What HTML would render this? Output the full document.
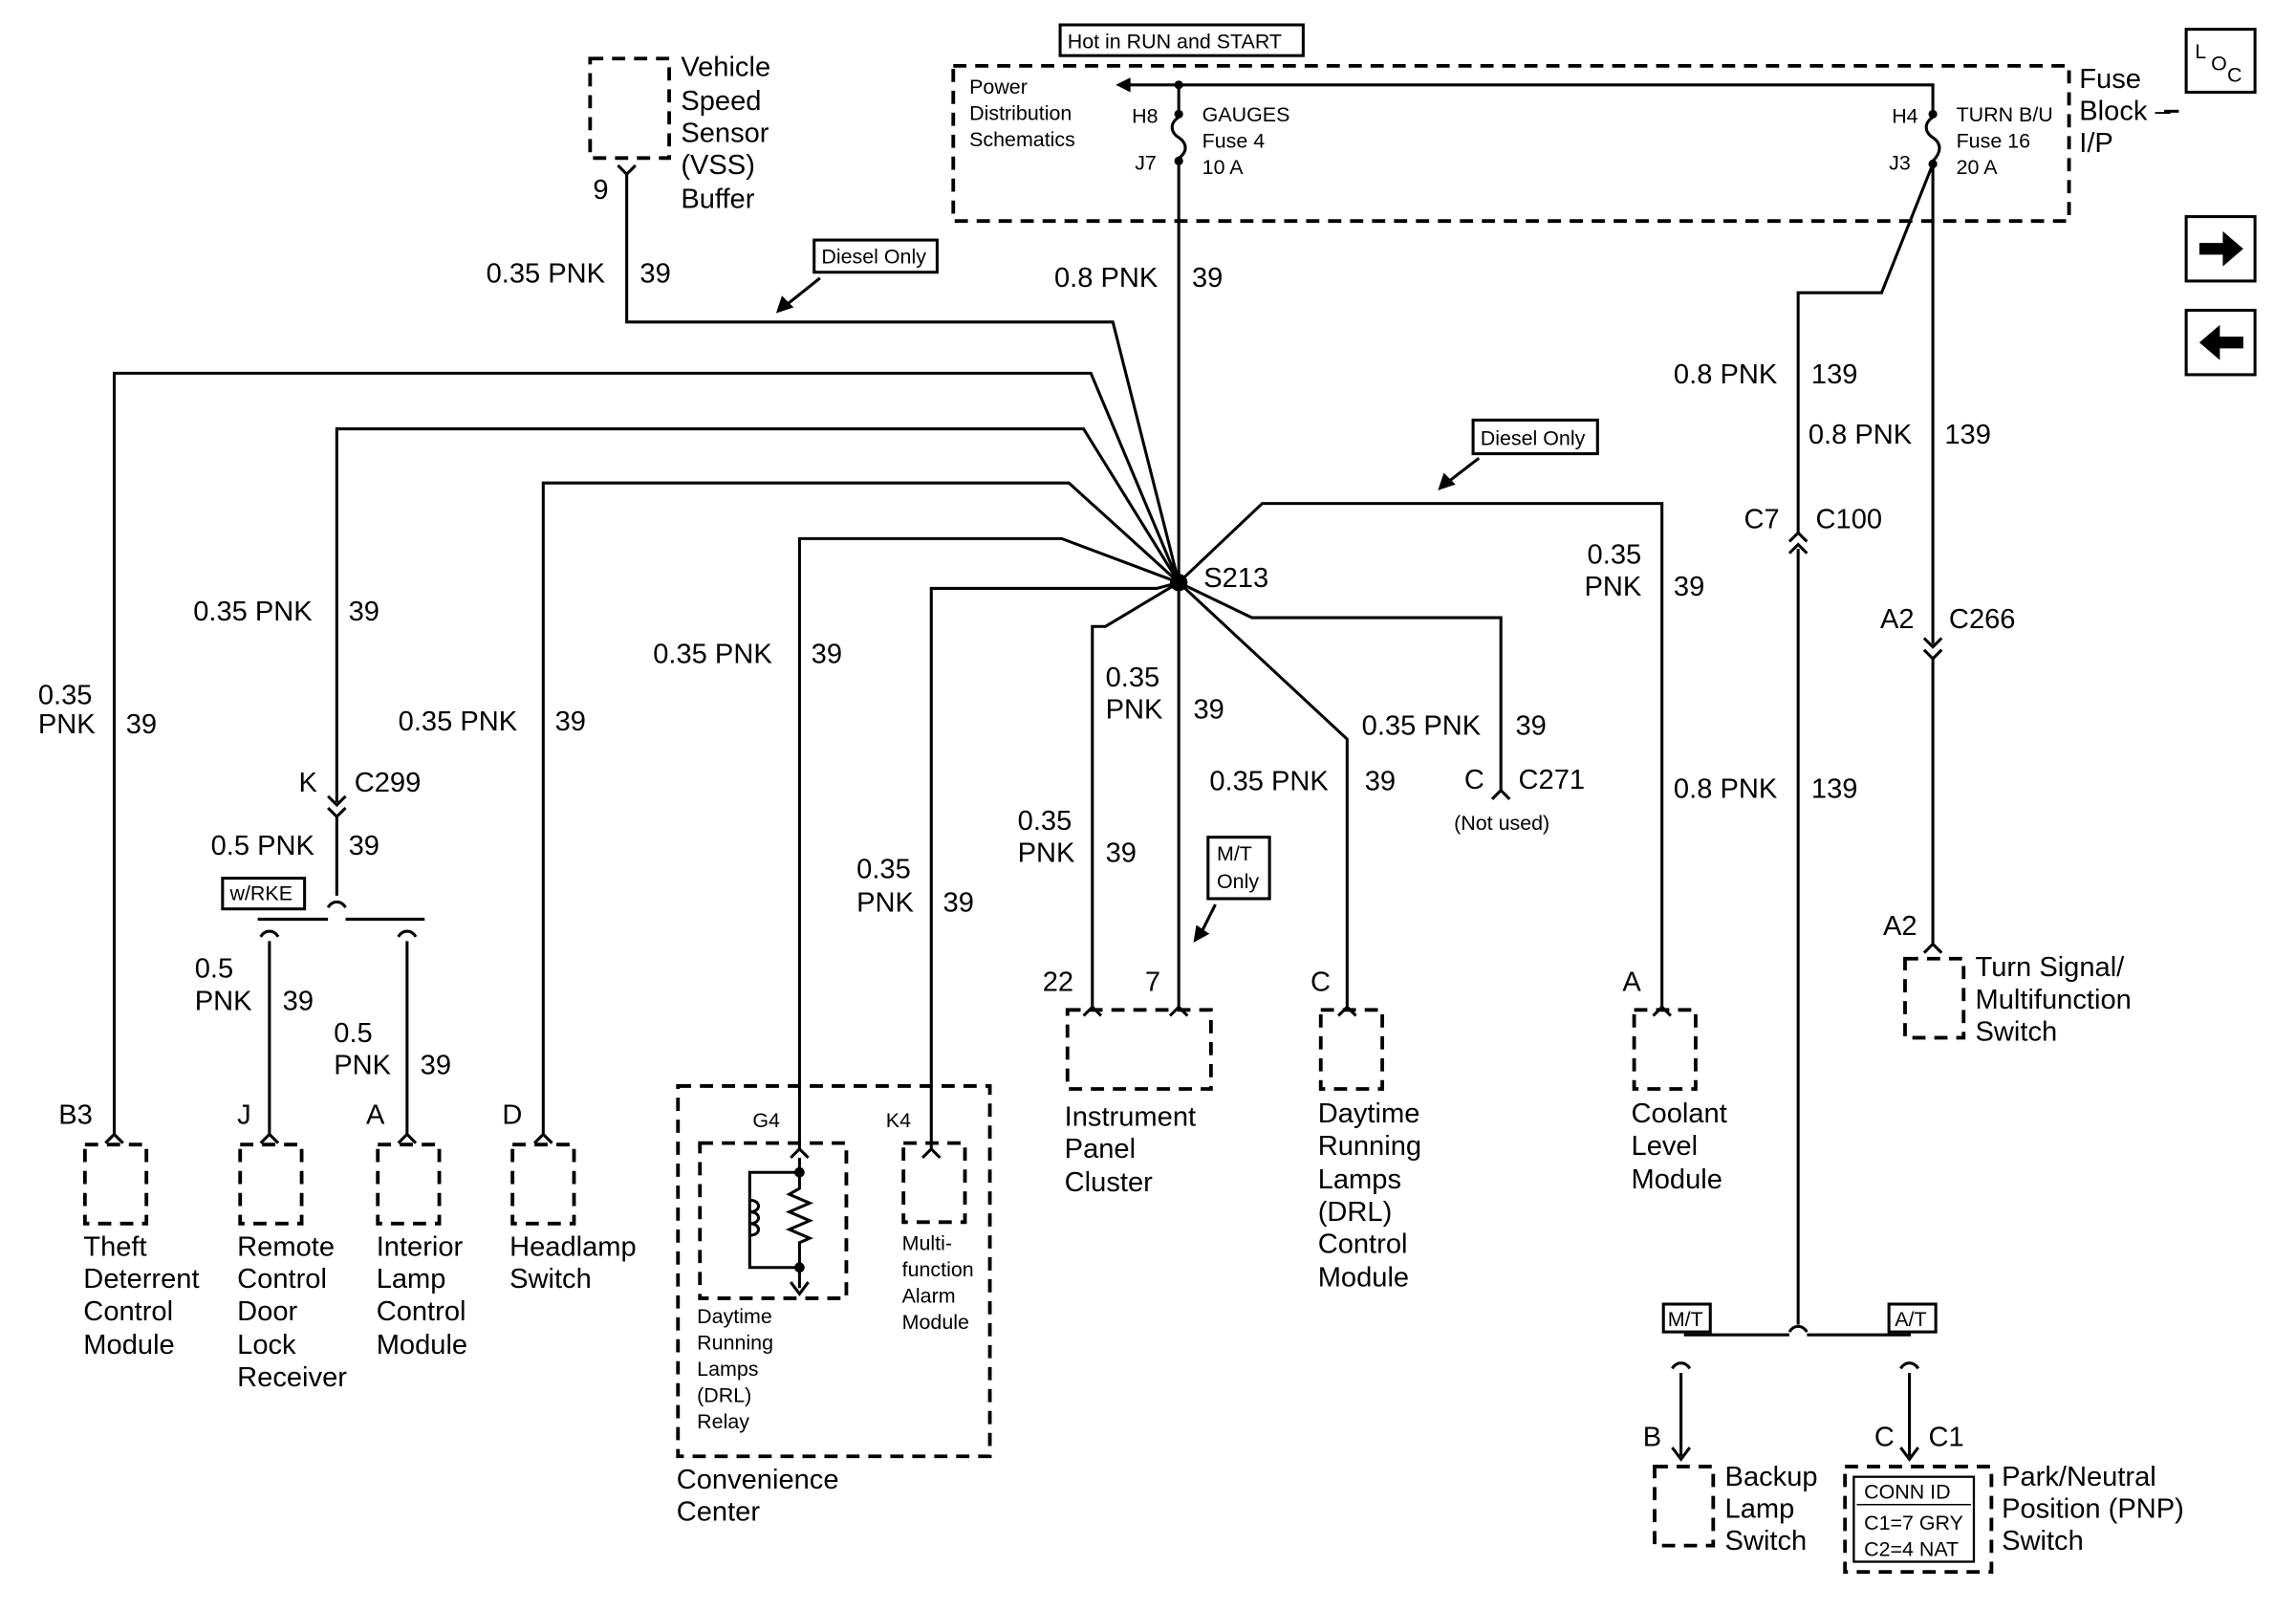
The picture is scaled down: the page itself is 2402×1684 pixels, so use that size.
<!DOCTYPE html>
<html><head><meta charset="utf-8"><style>
html,body{margin:0;padding:0;background:#fff;}
svg{display:block;}
text{font-family:"Liberation Sans",Arial,sans-serif;fill:#000;}
.l{font-size:19px;}
.s{font-size:14px;}
.w{stroke:#000;stroke-width:2;fill:none;}
.d{stroke:#000;stroke-width:2.5;fill:none;stroke-dasharray:9,6;}
</style></head><body>
<svg width="2402" height="1684" viewBox="0 0 1568 1100" preserveAspectRatio="none" xmlns="http://www.w3.org/2000/svg">
<rect width="1568" height="1100" fill="#fff"/>
<rect x="651" y="45" width="762" height="106" class="d"/>
<rect x="724" y="17" width="166" height="21" fill="#fff" stroke="#000" stroke-width="2"/>
<text x="729" y="33" class="s">Hot in RUN and START</text>
<path class="w" d="M768,58 H1320 V78"/>
<path d="M762,58 l10,-5 v10z" fill="#000"/>
<text x="662" y="64" class="s">Power</text><text x="662" y="82" class="s">Distribution</text><text x="662" y="100" class="s">Schematics</text>
<circle cx="805" cy="58" r="3"/><circle cx="805" cy="78" r="3"/><circle cx="805" cy="110" r="3"/>
<path class="w" d="M805,58 V78 M805,80 c-6,4 -6,10 0,14 c6,4 6,10 0,14 V398"/>
<text x="773" y="84" class="s">H8</text><text x="775" y="116" class="s">J7</text>
<text x="821" y="83" class="s">GAUGES</text><text x="821" y="101" class="s">Fuse 4</text><text x="821" y="119" class="s">10 A</text>
<circle cx="1320" cy="78" r="3"/><circle cx="1320" cy="112" r="3"/>
<path class="w" d="M1320,80 c-6,4 -6,10 0,14 c6,4 6,10 0,16"/>
<text x="1292" y="84" class="s">H4</text><text x="1290" y="116" class="s">J3</text>
<text x="1336" y="83" class="s">TURN B/U</text><text x="1336" y="101" class="s">Fuse 16</text><text x="1336" y="119" class="s">20 A</text>
<text x="1420" y="60" class="l">Fuse</text><text x="1420" y="82" class="l">Block –</text><text x="1420" y="104" class="l">I/P</text>
<path class="w" d="M1478,76 H1488"/>
<rect x="1493" y="20" width="47" height="43" class="w"/>
<text x="1499" y="40" class="s">L</text><text x="1510" y="48" class="s">O</text><text x="1521" y="56" class="s">C</text>
<rect x="1493" y="148" width="47" height="44" class="w"/><path d="M1502,166 h16 v-8 l14,12 -14,12 v-8 h-16z" fill="#000"/>
<rect x="1493" y="212" width="47" height="44" class="w"/><path d="M1532,230 h-16 v-8 l-14,12 14,12 v-8 h16z" fill="#000"/>
<path class="w" d="M1320,112 L1285,200 H1228 V365 M1228,375 V905"/>
<path class="w" d="M1222,370 l6,-6 6,6 M1222,378 l6,-6 6,6"/>
<path class="w" d="M1320,112 V440 M1314,436 l6,6 6,-6 M1314,444 l6,6 6,-6 M1320,450 V645 M1314,651 l6,-6 6,6"/>
<text x="1143" y="262" class="l">0.8 PNK</text><text x="1237" y="262" class="l">139</text>
<text x="1235" y="303" class="l">0.8 PNK</text><text x="1328" y="303" class="l">139</text>
<text x="1191" y="361" class="l">C7</text><text x="1240" y="361" class="l">C100</text>
<text x="1284" y="429" class="l">A2</text><text x="1331" y="429" class="l">C266</text>
<text x="1143" y="545" class="l">0.8 PNK</text><text x="1237" y="545" class="l">139</text>
<text x="1286" y="639" class="l">A2</text>
<rect x="1301" y="655" width="40" height="54" class="d"/>
<text x="1349" y="667" class="l">Turn Signal/</text><text x="1349" y="689" class="l">Multifunction</text><text x="1349" y="711" class="l">Switch</text>
<path class="w" d="M1222,910 c3,-5 9,-5 12,0 M1150,912 H1222 M1234,912 H1305"/>
<rect x="1136" y="891" width="32" height="19" fill="#fff" stroke="#000" stroke-width="2"/><text x="1139" y="906" class="s">M/T</text>
<rect x="1290" y="891" width="32" height="19" fill="#fff" stroke="#000" stroke-width="2"/><text x="1294" y="906" class="s">A/T</text>
<path class="w" d="M1142,935 c3,-5 9,-5 12,0 M1148,938 V995 M1298,935 c3,-5 9,-5 12,0 M1304,938 V995 M1142,989 l6,8 6,-8 M1298,989 l6,8 6,-8"/>
<text x="1122" y="988" class="l">B</text><text x="1280" y="988" class="l">C</text><text x="1317" y="988" class="l">C1</text>
<rect x="1130" y="1002" width="40" height="54" class="d"/>
<text x="1178" y="1015" class="l">Backup</text><text x="1178" y="1037" class="l">Lamp</text><text x="1178" y="1059" class="l">Switch</text>
<rect x="1260" y="1002" width="100" height="72" class="d"/>
<rect x="1266" y="1009" width="82" height="58" fill="none" stroke="#000" stroke-width="1.5"/>
<text x="1273" y="1024" class="s">CONN ID</text><path d="M1268,1028 H1346" stroke="#000"/>
<text x="1273" y="1045" class="s">C1=7 GRY</text><text x="1273" y="1063" class="s">C2=4 NAT</text>
<text x="1367" y="1015" class="l">Park/Neutral</text><text x="1367" y="1037" class="l">Position (PNP)</text><text x="1367" y="1059" class="l">Switch</text>
<circle cx="805" cy="398" r="6"/>
<text x="822" y="401" class="l">S213</text>
<text x="720" y="196" class="l">0.8 PNK</text><text x="814" y="196" class="l">39</text>
<rect x="403" y="40" width="54" height="68" class="d"/>
<text x="465" y="52" class="l">Vehicle</text><text x="465" y="75" class="l">Speed</text><text x="465" y="97" class="l">Sensor</text><text x="465" y="119" class="l">(VSS)</text><text x="465" y="142" class="l">Buffer</text>
<text x="405" y="136" class="l">9</text>
<path class="w" d="M422,113 l6,6 6,-6 M428,119 V220 H760 L805,398"/>
<text x="332" y="193" class="l">0.35 PNK</text><text x="437" y="193" class="l">39</text>
<rect x="556" y="164" width="84" height="22" fill="#fff" stroke="#000" stroke-width="2"/><text x="561" y="180" class="s">Diesel Only</text>
<path class="w" d="M560,190 L535,210"/><path d="M530,214 l4,-12 8,8z" fill="#000"/>
<path class="w" d="M805,398 L745,255 H78 V775 M72,781 l6,-6 6,6"/>
<text x="26" y="481" class="l">0.35</text><text x="26" y="501" class="l">PNK</text><text x="86" y="501" class="l">39</text>
<text x="40" y="768" class="l">B3</text>
<rect x="58" y="782" width="42" height="54" class="d"/>
<text x="57" y="858" class="l">Theft</text><text x="57" y="880" class="l">Deterrent</text><text x="57" y="902" class="l">Control</text><text x="57" y="925" class="l">Module</text>
<path class="w" d="M805,398 L740,293 H230 V548 M224,544 l6,6 6,-6 M224,552 l6,6 6,-6 M230,558 V612 M224,620 c3,-5 9,-5 12,0 M176,628 H224 M236,628 H290"/>
<text x="132" y="424" class="l">0.35 PNK</text><text x="238" y="424" class="l">39</text>
<text x="204" y="541" class="l">K</text><text x="242" y="541" class="l">C299</text>
<text x="144" y="584" class="l">0.5 PNK</text><text x="238" y="584" class="l">39</text>
<rect x="152" y="600" width="56" height="21" fill="#fff" stroke="#000" stroke-width="2"/><text x="157" y="615" class="s">w/RKE</text>
<path class="w" d="M178,640 c3,-5 9,-5 12,0 M184,643 V775 M178,781 l6,-6 6,6 M272,640 c3,-5 9,-5 12,0 M278,643 V775 M272,781 l6,-6 6,6"/>
<text x="133" y="668" class="l">0.5</text><text x="133" y="690" class="l">PNK</text><text x="193" y="690" class="l">39</text>
<text x="228" y="712" class="l">0.5</text><text x="228" y="734" class="l">PNK</text><text x="287" y="734" class="l">39</text>
<text x="162" y="768" class="l">J</text><text x="250" y="768" class="l">A</text>
<rect x="164" y="782" width="42" height="54" class="d"/><rect x="258" y="782" width="42" height="54" class="d"/>
<text x="162" y="858" class="l">Remote</text><text x="162" y="880" class="l">Control</text><text x="162" y="902" class="l">Door</text><text x="162" y="925" class="l">Lock</text><text x="162" y="947" class="l">Receiver</text>
<text x="257" y="858" class="l">Interior</text><text x="257" y="880" class="l">Lamp</text><text x="257" y="902" class="l">Control</text><text x="257" y="925" class="l">Module</text>
<path class="w" d="M805,398 L730,330 H371 V775 M365,781 l6,-6 6,6"/>
<text x="272" y="499" class="l">0.35 PNK</text><text x="379" y="499" class="l">39</text>
<text x="343" y="768" class="l">D</text>
<rect x="350" y="782" width="42" height="54" class="d"/>
<text x="348" y="858" class="l">Headlamp</text><text x="348" y="880" class="l">Switch</text>
<path class="w" d="M805,398 L725,368 H546 V785 M540,791 l6,-6 6,6"/>
<path class="w" d="M805,398 L790,402 H636 V785 M630,791 l6,-6 6,6"/>
<text x="446" y="453" class="l">0.35 PNK</text><text x="554" y="453" class="l">39</text>
<text x="585" y="600" class="l">0.35</text><text x="585" y="623" class="l">PNK</text><text x="644" y="623" class="l">39</text>
<rect x="463" y="742" width="213" height="253" class="d"/>
<text x="514" y="770" class="s">G4</text><text x="605" y="770" class="s">K4</text>
<rect x="478" y="781" width="100" height="106" class="d"/>
<rect x="617" y="781" width="42" height="54" class="d"/>
<circle cx="546" cy="801" r="3.5"/><circle cx="546" cy="866" r="3.5"/>
<path class="w" d="M546,791 V812 l-7,4 14,6 -14,6 14,6 -14,6 14,6 -7,3 V880 M546,801 H512 V866 H546"/>
<path class="w" d="M512,820 c8,0 8,8 0,8 c8,0 8,8 0,8 c8,0 8,8 0,8"/>
<path class="w" d="M540,876 l6,8 6,-8"/>
<text x="476" y="904" class="s">Daytime</text><text x="476" y="922" class="s">Running</text><text x="476" y="940" class="s">Lamps</text><text x="476" y="958" class="s">(DRL)</text><text x="476" y="976" class="s">Relay</text>
<text x="616" y="854" class="s">Multi-</text><text x="616" y="872" class="s">function</text><text x="616" y="890" class="s">Alarm</text><text x="616" y="908" class="s">Module</text>
<text x="462" y="1017" class="l">Convenience</text><text x="462" y="1039" class="l">Center</text>
<path class="w" d="M805,398 L755,428 H746 V688 M740,694 l6,-6 6,6"/>
<path class="w" d="M805,398 V688 M799,694 l6,-6 6,6"/>
<text x="755" y="469" class="l">0.35</text><text x="755" y="491" class="l">PNK</text><text x="815" y="491" class="l">39</text>
<text x="695" y="567" class="l">0.35</text><text x="695" y="589" class="l">PNK</text><text x="755" y="589" class="l">39</text>
<rect x="825" y="572" width="42" height="42" fill="#fff" stroke="#000" stroke-width="2"/><text x="831" y="588" class="s">M/T</text><text x="831" y="607" class="s">Only</text>
<path class="w" d="M830,618 L820,638"/><path d="M815,644 l2,-12 9,6z" fill="#000"/>
<text x="712" y="677" class="l">22</text><text x="782" y="677" class="l">7</text>
<rect x="729" y="690" width="98" height="54" class="d"/>
<text x="727" y="769" class="l">Instrument</text><text x="727" y="791" class="l">Panel</text><text x="727" y="814" class="l">Cluster</text>
<path class="w" d="M805,398 L920,505 V688 M914,694 l6,-6 6,6"/>
<text x="826" y="540" class="l">0.35 PNK</text><text x="932" y="540" class="l">39</text>
<text x="895" y="677" class="l">C</text>
<rect x="902" y="690" width="42" height="54" class="d"/>
<text x="900" y="767" class="l">Daytime</text><text x="900" y="789" class="l">Running</text><text x="900" y="812" class="l">Lamps</text><text x="900" y="834" class="l">(DRL)</text><text x="900" y="856" class="l">Control</text><text x="900" y="879" class="l">Module</text>
<path class="w" d="M805,398 L855,422 H1025 V540 M1019,546 l6,-6 6,6"/>
<text x="930" y="502" class="l">0.35 PNK</text><text x="1035" y="502" class="l">39</text>
<text x="1000" y="539" class="l">C</text><text x="1037" y="539" class="l">C271</text>
<text x="993" y="567" class="s">(Not used)</text>
<path class="w" d="M805,398 L862,344 H1135 V688 M1129,694 l6,-6 6,6"/>
<rect x="1006" y="287" width="85" height="23" fill="#fff" stroke="#000" stroke-width="2"/><text x="1011" y="304" class="s">Diesel Only</text>
<path class="w" d="M1010,313 L988,330"/><path d="M982,335 l4,-12 8,8z" fill="#000"/>
<text x="1084" y="385" class="l">0.35</text><text x="1082" y="407" class="l">PNK</text><text x="1143" y="407" class="l">39</text>
<text x="1108" y="677" class="l">A</text>
<rect x="1116" y="690" width="42" height="54" class="d"/>
<text x="1114" y="767" class="l">Coolant</text><text x="1114" y="789" class="l">Level</text><text x="1114" y="812" class="l">Module</text>
</svg>
</body></html>
